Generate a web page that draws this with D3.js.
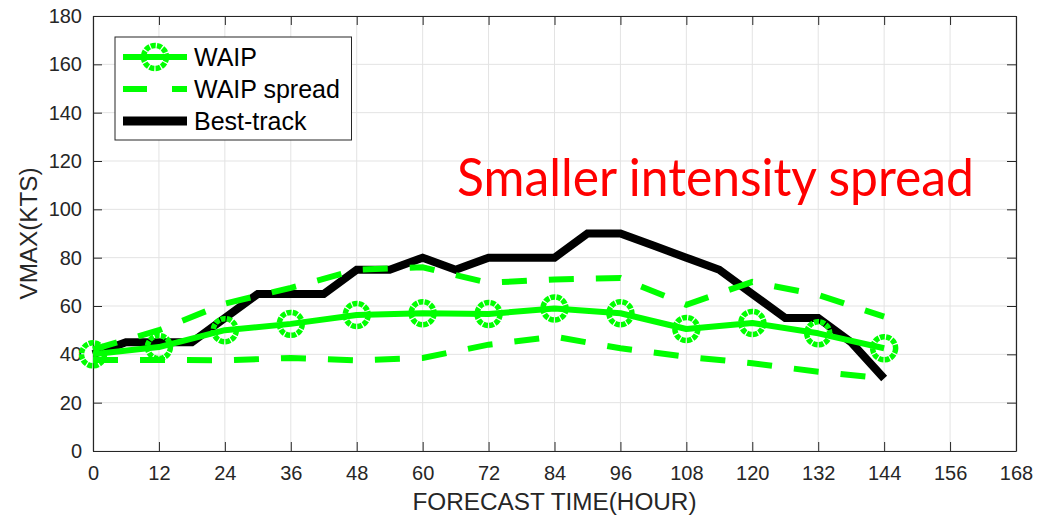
<!DOCTYPE html>
<html>
<head>
<meta charset="utf-8">
<script src="https://cdn.jsdelivr.net/npm/d3@7"></script>
<style>
  html, body { margin: 0; padding: 0; background: #fff; }
  svg { display: block; }
</style>
</head>
<body>
<svg id="chart" width="1037" height="516"></svg>
<script>
// ---- data ----
const waipHours = [0, 12, 24, 36, 48, 60, 72, 84, 96, 108, 120, 132, 144];
const waip = [40, 43, 50, 52.6, 56.3, 57, 56.7, 59, 57, 50.5, 53, 48.7, 42.5];
const spreadUpper = [42, 50, 61, 67.5, 75, 76, 69.6, 71, 71.6, 60.5, 70, 64.6, 55.6];
const spreadLower = [37.7, 37.7, 37.5, 38.5, 37.5, 38.5, 44, 47.3, 42.5, 39, 36.3, 32.8, 30];
const bestHours = [0, 6, 12, 18, 24, 30, 36, 42, 48, 54, 60, 66, 72, 78, 84, 90, 96, 102, 108, 114, 120, 126, 132, 138, 144];
const bestTrack = [40, 45, 45, 45, 55, 65, 65, 65, 75, 75, 80, 75, 80, 80, 80, 90, 90, 85, 80, 75, 65, 55, 55, 45, 30];
const xTicks = [0, 12, 24, 36, 48, 60, 72, 84, 96, 108, 120, 132, 144, 156, 168];
const yTicks = [0, 20, 40, 60, 80, 100, 120, 140, 160, 180];
const legendLabels = ["WAIP", "WAIP spread", "Best-track"];
const xTitle = "FORECAST TIME(HOUR)";
const yTitle = "VMAX(KTS)";
const annotation = "Smaller intensity spread";

// ---- layout ----
const L = 93, R = 1016, T = 16, B = 451;
const green = "#00ff00";
const axisCol = "#262626";
const font = "'Liberation Sans', Arial, Helvetica, sans-serif";

const svg = d3.select("#chart");
const x = d3.scaleLinear().domain([0, 168]).range([L, R]);
const y = d3.scaleLinear().domain([0, 180]).range([B, T]);

// grid
const grid = svg.append("g");
grid.selectAll("line.gx").data(xTicks).join("line")
  .attr("x1", d => x(d)).attr("x2", d => x(d)).attr("y1", T).attr("y2", B)
  .attr("stroke", "#e3e3e3").attr("stroke-width", 1);
grid.selectAll("line.gy").data(yTicks).join("line")
  .attr("y1", d => y(d)).attr("y2", d => y(d)).attr("x1", L).attr("x2", R)
  .attr("stroke", "#e3e3e3").attr("stroke-width", 1);

// axes (inward ticks, box)
const tl = 9;
const xAxisB = d3.axisBottom(x).tickValues(xTicks).tickSizeInner(-tl).tickSizeOuter(0).tickPadding(15);
const xAxisT = d3.axisTop(x).tickValues(xTicks).tickSizeInner(-tl).tickSizeOuter(0).tickFormat("");
const yAxisL = d3.axisLeft(y).tickValues(yTicks).tickSizeInner(-tl).tickSizeOuter(0).tickPadding(11);
const yAxisR = d3.axisRight(y).tickValues(yTicks).tickSizeInner(-tl).tickSizeOuter(0).tickFormat("");

function styleAxis(g) {
  g.selectAll(".domain").attr("stroke", axisCol).attr("stroke-width", 1.2);
  g.selectAll(".tick line").attr("stroke", axisCol).attr("stroke-width", 1);
  g.selectAll(".tick text").attr("fill", axisCol).attr("font-family", font).attr("font-size", 20);
}
svg.append("g").attr("transform", `translate(0,${B})`).call(xAxisB).call(styleAxis);
svg.append("g").attr("transform", `translate(0,${T})`).call(xAxisT).call(styleAxis);
svg.append("g").attr("transform", `translate(${L},0)`).call(yAxisL).call(styleAxis);
svg.append("g").attr("transform", `translate(${R},0)`).call(yAxisR).call(styleAxis);

// axis titles
svg.append("text").attr("x", (L + R) / 2).attr("y", 510)
  .attr("text-anchor", "middle").attr("font-family", font).attr("font-size", 23)
  .attr("fill", axisCol).attr("textLength", 284).attr("lengthAdjust", "spacingAndGlyphs")
  .text(xTitle);
svg.append("text").attr("transform", `translate(37,${(T + B) / 2}) rotate(-90)`)
  .attr("text-anchor", "middle").attr("font-family", font).attr("font-size", 23)
  .attr("fill", axisCol).attr("textLength", 132).attr("lengthAdjust", "spacingAndGlyphs")
  .text(yTitle);

// lines
const lineGen = d3.line().x(d => x(d[0])).y(d => y(d[1]));
const bestData = bestHours.map((h, i) => [h, bestTrack[i]]);
const upData = waipHours.map((h, i) => [h, spreadUpper[i]]);
const loData = waipHours.map((h, i) => [h, spreadLower[i]]);
const waipData = waipHours.map((h, i) => [h, waip[i]]);

svg.append("path").attr("d", lineGen(bestData)).attr("fill", "none")
  .attr("stroke", "#000").attr("stroke-width", 8).attr("stroke-linejoin", "miter");
[upData, loData].forEach(dd => {
  svg.append("path").attr("d", lineGen(dd)).attr("fill", "none")
    .attr("stroke", green).attr("stroke-width", 6).attr("stroke-dasharray", "25,22");
});
svg.append("path").attr("d", lineGen(waipData)).attr("fill", "none")
  .attr("stroke", green).attr("stroke-width", 6).attr("stroke-linejoin", "round");
svg.append("g").selectAll("circle").data(waipData).join("circle")
  .attr("cx", d => x(d[0])).attr("cy", d => y(d[1])).attr("r", 11.5)
  .attr("fill", "none").attr("stroke", green).attr("stroke-width", 5.5)
  .attr("stroke-dasharray", "5,1.2");

// annotation
svg.append("text").attr("x", 457).attr("y", 196)
  .attr("font-family", "Lato, 'Open Sans', sans-serif").attr("font-size", 53)
  .attr("fill", "#ff0000").attr("textLength", 517).attr("lengthAdjust", "spacingAndGlyphs")
  .text(annotation);

// legend
const lg = svg.append("g");
lg.append("rect").attr("x", 115).attr("y", 37).attr("width", 236.5).attr("height", 103)
  .attr("fill", "#fff").attr("stroke", axisCol).attr("stroke-width", 1);
const rowsY = [57, 89, 121];
const lx1 = 123, lx2 = 187;
// WAIP
lg.append("line").attr("x1", lx1).attr("x2", lx2).attr("y1", rowsY[0]).attr("y2", rowsY[0])
  .attr("stroke", green).attr("stroke-width", 6);
lg.append("circle").attr("cx", (lx1 + lx2) / 2).attr("cy", rowsY[0]).attr("r", 11.5)
  .attr("fill", "none").attr("stroke", green).attr("stroke-width", 5.5).attr("stroke-dasharray", "5,1.2");
// spread
lg.append("line").attr("x1", lx1).attr("x2", lx2).attr("y1", rowsY[1]).attr("y2", rowsY[1])
  .attr("stroke", green).attr("stroke-width", 6).attr("stroke-dasharray", "24,25");
// best-track
lg.append("line").attr("x1", lx1).attr("x2", lx2).attr("y1", rowsY[2]).attr("y2", rowsY[2])
  .attr("stroke", "#000").attr("stroke-width", 9);
lg.selectAll("text").data(legendLabels).join("text")
  .attr("x", 194).attr("y", (d, i) => rowsY[i] + 9)
  .attr("font-family", font).attr("font-size", 25).attr("fill", "#000")
  .text(d => d);
</script>
</body>
</html>
